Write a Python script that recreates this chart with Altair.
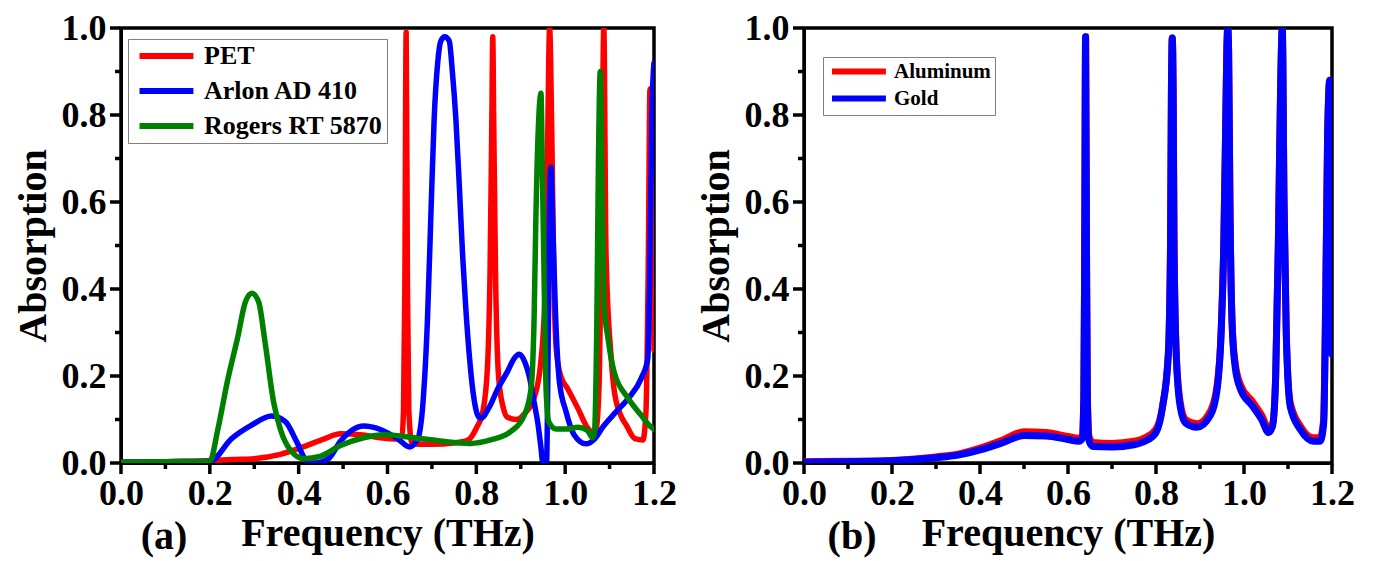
import altair as alt
import pandas as pd

# ---------------- Panel (a) data ----------------
pet_f = [0.0, 0.1, 0.2, 0.25, 0.3, 0.359, 0.418, 0.456, 0.494, 0.539, 0.584, 0.62, 0.632, 0.636, 0.639, 0.642, 0.645, 0.648, 0.655, 0.67,
         0.7, 0.75, 0.78, 0.8, 0.815, 0.825, 0.831, 0.835, 0.837, 0.839, 0.843, 0.85, 0.86, 0.87, 0.89, 0.91, 0.93, 0.945, 0.955, 0.96,
         0.965, 0.97, 0.975, 0.98, 0.99, 1.006, 1.029, 1.051, 1.062, 1.07, 1.077, 1.082, 1.087, 1.092, 1.103, 1.11, 1.125, 1.137, 1.157,
         1.175, 1.182, 1.187, 1.191, 1.2]
pet_a = [0.002, 0.003, 0.005, 0.008, 0.01, 0.02, 0.04, 0.055, 0.067, 0.065, 0.058, 0.055, 0.062, 0.12, 0.4, 0.99, 0.4, 0.12, 0.045, 0.043,
         0.043, 0.046, 0.052, 0.08, 0.12, 0.22, 0.45, 0.8, 0.98, 0.8, 0.45, 0.2, 0.13, 0.105, 0.1, 0.115, 0.15, 0.23, 0.4, 0.7,
         1.0, 0.75, 0.4, 0.26, 0.2, 0.17, 0.125, 0.08, 0.07, 0.08, 0.2, 0.55, 1.0, 0.48, 0.25, 0.17, 0.11, 0.088, 0.056,
         0.053, 0.12, 0.45, 0.86, 0.26]

arlon_f = [0.0, 0.1, 0.2, 0.249, 0.294, 0.339, 0.37, 0.396, 0.418, 0.437, 0.467, 0.494, 0.546, 0.584, 0.624, 0.65, 0.668, 0.68, 0.69, 0.698,
           0.705, 0.713, 0.72, 0.729, 0.739, 0.746, 0.754, 0.762, 0.769, 0.776, 0.784, 0.793, 0.803, 0.81, 0.83, 0.848, 0.87, 0.885,
           0.897, 0.91, 0.919, 0.93, 0.938, 0.945, 0.95, 0.958, 0.962, 0.965, 0.968, 0.972, 0.978, 0.987, 1.002, 1.02, 1.047, 1.066,
           1.085, 1.115, 1.145, 1.171, 1.186, 1.19, 1.195, 1.2]
arlon_a = [0.002, 0.003, 0.004, 0.056, 0.087, 0.108, 0.095, 0.048, 0.005, 0.0, 0.01, 0.05, 0.085, 0.077, 0.055, 0.037, 0.055, 0.14, 0.33, 0.58,
           0.79, 0.92, 0.97, 0.98, 0.97, 0.9, 0.79, 0.63, 0.48, 0.36, 0.25, 0.16, 0.11, 0.103, 0.13, 0.17, 0.21, 0.24,
           0.25, 0.23, 0.2, 0.14, 0.095, 0.04, 0.0, 0.0, 0.3, 0.6, 0.68, 0.55, 0.35, 0.187, 0.118, 0.065, 0.044, 0.055,
           0.083, 0.118, 0.152, 0.194, 0.24, 0.4, 0.79, 0.92]

rogers_f = [0.0, 0.1, 0.2, 0.218, 0.24, 0.263, 0.28, 0.295, 0.31, 0.324, 0.344, 0.359, 0.381, 0.411, 0.448, 0.494, 0.546, 0.593, 0.683, 0.787,
            0.832, 0.877, 0.908, 0.923, 0.93, 0.934, 0.94, 0.9455, 0.949, 0.953, 0.957, 0.963, 0.98, 1.0, 1.03, 1.05, 1.062, 1.066,
            1.071, 1.075, 1.079, 1.084, 1.088, 1.096, 1.11, 1.141, 1.171, 1.193, 1.2]
rogers_a = [0.002, 0.003, 0.004, 0.077, 0.19, 0.29, 0.37, 0.39, 0.37, 0.28, 0.138, 0.077, 0.03, 0.01, 0.015, 0.04, 0.058, 0.065, 0.055, 0.045,
            0.053, 0.072, 0.11, 0.17, 0.33, 0.56, 0.78, 0.85, 0.65, 0.4, 0.17, 0.095, 0.078, 0.078, 0.082, 0.075, 0.058, 0.07,
            0.3, 0.7, 0.9, 0.56, 0.36, 0.29, 0.21, 0.15, 0.11, 0.083, 0.078]

# ---------------- Panel (b) data ----------------
alu_f = [0.0, 0.1, 0.2, 0.3, 0.35, 0.4, 0.45, 0.5, 0.55, 0.6, 0.625, 0.632, 0.636, 0.638, 0.64, 0.642, 0.644, 0.648, 0.657, 0.7, 0.75,
         0.775, 0.8, 0.815, 0.828, 0.833, 0.835, 0.837, 0.839, 0.841, 0.846, 0.855, 0.867, 0.893, 0.924, 0.939, 0.948, 0.954, 0.958,
         0.961, 0.963, 0.965, 0.968, 0.973, 0.98, 0.992, 1.02, 1.04, 1.056, 1.065, 1.072, 1.078, 1.083, 1.087, 1.091, 1.096, 1.105,
         1.128, 1.158, 1.173, 1.181, 1.186, 1.19, 1.195, 1.2]
alu_a = [0.003, 0.004, 0.006, 0.014, 0.02, 0.034, 0.052, 0.072, 0.07, 0.061, 0.057, 0.062, 0.15, 0.5, 0.98, 0.5, 0.15, 0.06, 0.047, 0.045, 0.05,
         0.058, 0.078, 0.13, 0.25, 0.5, 0.85, 0.977, 0.85, 0.5, 0.25, 0.14, 0.1, 0.09, 0.12, 0.18, 0.3, 0.5, 0.75,
         0.95, 1.0, 0.95, 0.6, 0.32, 0.23, 0.18, 0.14, 0.11, 0.08, 0.09, 0.2, 0.5, 0.85, 1.0, 0.6, 0.3, 0.14,
         0.085, 0.058, 0.058, 0.1, 0.4, 0.75, 0.88, 0.26]

gold_f = [0.0, 0.1, 0.2, 0.3, 0.35, 0.4, 0.45, 0.5, 0.55, 0.6, 0.625, 0.632, 0.636, 0.638, 0.64, 0.642, 0.644, 0.648, 0.657, 0.7, 0.75,
          0.775, 0.8, 0.815, 0.828, 0.833, 0.835, 0.837, 0.839, 0.841, 0.846, 0.855, 0.867, 0.893, 0.924, 0.939, 0.948, 0.954, 0.958,
          0.961, 0.963, 0.965, 0.968, 0.973, 0.98, 0.992, 1.02, 1.04, 1.056, 1.065, 1.072, 1.078, 1.083, 1.087, 1.091, 1.096, 1.105,
          1.128, 1.158, 1.173, 1.181, 1.186, 1.19, 1.195, 1.2]
gold_a = [0.002, 0.003, 0.005, 0.012, 0.018, 0.03, 0.046, 0.063, 0.062, 0.054, 0.05, 0.055, 0.15, 0.5, 0.98, 0.5, 0.15, 0.05, 0.038, 0.037, 0.042,
          0.05, 0.07, 0.13, 0.25, 0.5, 0.85, 0.977, 0.85, 0.5, 0.25, 0.13, 0.092, 0.082, 0.11, 0.17, 0.3, 0.5, 0.75,
          0.95, 1.0, 0.95, 0.6, 0.32, 0.22, 0.17, 0.13, 0.1, 0.07, 0.085, 0.2, 0.5, 0.85, 1.0, 0.6, 0.3, 0.13,
          0.077, 0.05, 0.05, 0.09, 0.4, 0.75, 0.88, 0.25]

series_a = ["PET", "Arlon AD 410", "Rogers RT 5870"]
colors_a = ["#FF0000", "#0000FF", "#008000"]
series_b = ["Aluminum", "Gold"]
colors_b = ["#FF0000", "#0000FF"]
panel_labels = ["(a)", "(b)"]

x_major = [0.0, 0.2, 0.4, 0.6, 0.8, 1.0, 1.2]
x_minor = [0.1, 0.3, 0.5, 0.7, 0.9, 1.1]
y_major = [0.0, 0.2, 0.4, 0.6, 0.8, 1.0]
y_minor = [0.1, 0.3, 0.5, 0.7, 0.9]

FONT = "Liberation Serif"
H = 435
MAJ, MIN = 11, 6


def frame(fs, vals, names):
    rows = []
    for f, v, n in zip(fs, vals, names):
        for i, (a, b) in enumerate(zip(f, v)):
            rows.append({"f": a, "A": b, "series": n, "idx": i})
    return pd.DataFrame(rows)


df_a = frame([pet_f, arlon_f, rogers_f], [pet_a, arlon_a, rogers_a], series_a)
df_b = frame([alu_f, gold_f], [alu_a, gold_a], series_b)

xs = alt.Scale(domain=[0, 1.2], nice=False)
ys = alt.Scale(domain=[0, 1.0], nice=False)


def tick_layers():
    out = []
    for vals, ln in ((x_major, MAJ), (x_minor, MIN)):
        out.append(alt.Chart(pd.DataFrame({"tx": vals})).mark_rule(color="black", strokeWidth=3.5).encode(
            x=alt.X("tx:Q", scale=xs, axis=None), y=alt.value(H + 1), y2=alt.value(H + ln)))
    for vals, ln in ((y_major, MAJ), (y_minor, MIN)):
        out.append(alt.Chart(pd.DataFrame({"ty": vals})).mark_rule(color="black", strokeWidth=3.5).encode(
            y=alt.Y("ty:Q", scale=ys, axis=None), x=alt.value(-1), x2=alt.value(-ln)))
    return out


def panel(df, names, colors, lx, ly, lfs, rowpad, sw, label, w, labx):
    legend = alt.Legend(orient="none", legendX=lx, legendY=ly, title=None,
                        labelFont=FONT, labelFontSize=lfs, labelFontWeight="bold", labelColor="black",
                        labelLimit=0, symbolType="M-1,0H8.8", symbolSize=121, symbolStrokeWidth=6,
                        labelOffset=46, strokeColor="#808080", padding=4, rowPadding=rowpad,
                        fillColor="white")
    lines = alt.Chart(df).mark_line(strokeWidth=sw, clip=True, strokeCap="round", strokeJoin="round",
                                    interpolate="monotone").encode(
        x=alt.X("f:Q", scale=xs, axis=alt.Axis(values=x_major, format=".1f", title="Frequency (THz)", ticks=False,
                                                labelPadding=13, titlePadding=2, labelFlush=False,
                                                labelOverlap=False, orient="bottom")),
        y=alt.Y("A:Q", scale=ys, axis=alt.Axis(values=y_major, format=".1f", title="Absorption", ticks=False,
                                                labelPadding=15, titlePadding=8, labelFlush=False,
                                                labelOverlap=False, orient="left")),
        color=alt.Color("series:N", scale=alt.Scale(domain=names, range=colors), legend=legend),
        order=alt.Order("idx:Q"),
    )
    lab = alt.Chart(pd.DataFrame({"t": [label]})).mark_text(
        font=FONT, fontSize=40, fontWeight="bold", align="center", baseline="alphabetic", color="black"
    ).encode(x=alt.value(labx), y=alt.value(521), text="t:N")
    return alt.layer(lines, *tick_layers(), lab).resolve_axis(
        x="independent", y="independent").properties(width=w, height=H)


left = panel(df_a, series_a, colors_a, 7, 11, 26, 9, 5.5, panel_labels[0], 533, 43)
right = panel(df_b, series_b, colors_b, 19, 29, 21, 2, 7, panel_labels[1], 528, 48)

chart = alt.hconcat(left, right, spacing=15).resolve_scale(color="independent").configure_view(
    stroke="black", strokeWidth=3.5
).configure_axis(
    domainColor="black", domainWidth=3, grid=False,
    labelFont=FONT, labelFontSize=36, labelFontWeight="bold", labelColor="black",
    titleFont=FONT, titleFontSize=40, titleFontWeight="bold", titleColor="black"
).properties(padding={"left": 3, "top": 0, "right": 5, "bottom": 0}, background="white")

chart.save("out.html", embed_options={"renderer": "svg", "actions": False})
